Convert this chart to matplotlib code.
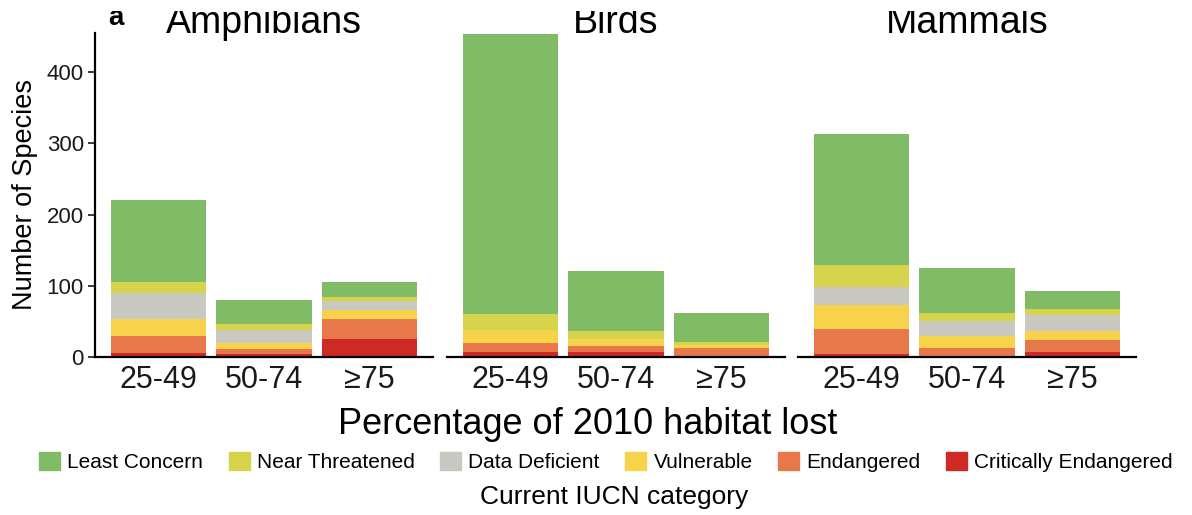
import matplotlib
matplotlib.use("Agg")
import matplotlib.pyplot as plt
import numpy as np
from matplotlib.transforms import Bbox, TransformedBbox

plt.rcParams["font.family"] = ["Liberation Sans", "DejaVu Sans"]

# 数据：每个类群，每个栖息地损失区间，各IUCN类别的物种数
groups = ["Amphibians", "Birds", "Mammals"]
bins = ["25-49", "50-74", "≥75"]
categories = ["Least Concern", "Near Threatened", "Data Deficient",
              "Vulnerable", "Endangered", "Critically Endangered"]
colors = ["#82bb66", "#d5d44c", "#c9c8c1", "#f6d34b", "#e8774a", "#cd2a26"]

# 顺序与 categories 相同
amphibians = {
    "25-49": [115, 15, 37, 24, 23, 6],
    "50-74": [34, 8, 18, 9, 7, 4],
    "≥75": [21, 5, 13, 12, 29, 25],
}
birds = {
    "25-49": [393, 23, 0, 19, 12, 7],
    "50-74": [85, 11, 0, 9, 9, 7],
    "≥75": [41, 4, 0, 4, 11, 2],
}
mammals = {
    "25-49": [184, 31, 25, 34, 35, 4],
    "50-74": [63, 12, 21, 16, 11, 2],
    "≥75": [26, 8, 22, 13, 17, 7],
}
all_data = [amphibians, birds, mammals]

W, H = 1192, 515
fig = plt.figure(figsize=(W / 100, H / 100), dpi=100)

# 原图顶部被裁掉，标题只露出下半部分
top_clip = TransformedBbox(Bbox([[0, 0], [1, 1 - 11 / H]]), fig.transFigure)

panel_left = [95, 447, 798]
panel_w = 338
bottom_px, top_px = 357, 33

axes = []
for i, (name, data) in enumerate(zip(groups, all_data)):
    ax = fig.add_axes([panel_left[i] / W, 1 - bottom_px / H,
                       panel_w / W, (bottom_px - top_px) / H])
    x = np.arange(1, len(bins) + 1)
    # 从下往上堆叠：CR, EN, VU, DD, NT, LC
    bottom = np.zeros(len(bins))
    for k in range(len(categories) - 1, -1, -1):
        vals = np.array([data[b][k] for b in bins])
        ax.bar(x, vals, width=0.9, bottom=bottom, color=colors[k],
               linewidth=0, label=categories[k])
        bottom += vals
    ax.set_xlim(0.4, 3.6)
    ax.set_ylim(0, 455)
    ax.set_xticks(x)
    ax.set_xticklabels(bins, fontsize=22)
    ax.tick_params(axis="x", length=0, pad=6, colors="#1a1a1a")
    for s in ["top", "right"]:
        ax.spines[s].set_visible(False)
    ax.spines["bottom"].set_linewidth(1.6)
    if i == 0:
        ax.set_yticks([0, 100, 200, 300, 400])
        ax.tick_params(axis="y", labelsize=16, length=5, width=1.2, pad=3,
                       colors="#1a1a1a")
        ax.spines["left"].set_linewidth(1.6)
        ax.set_ylabel("Number of Species", fontsize=19.5, labelpad=6)
    else:
        ax.spines["left"].set_visible(False)
        ax.set_yticks([])
    t = ax.text(0.5, 1.0, name, transform=ax.transAxes, ha="center",
                va="baseline", fontsize=27)
    t.set_clip_box(top_clip)
    t.set_clip_on(True)
    axes.append(ax)

# 面板标记
t = fig.text(108 / W, 1 - 25 / H, "a", fontsize=20, fontweight="bold",
             va="baseline")
t.set_clip_box(top_clip)
t.set_clip_on(True)

fig.text(0.493, 1 - 434 / H, "Percentage of 2010 habitat lost", ha="center",
         va="baseline", fontsize=26)

# 图例
handles = [plt.Rectangle((0, 0), 1, 1, color=c) for c in colors]
fig.legend(handles, categories, loc="center", ncol=6,
           bbox_to_anchor=(606 / W, 1 - 462 / H), frameon=False, fontsize=15,
           handlelength=1.0, handleheight=1.0, handletextpad=0.35,
           columnspacing=1.23)
fig.text(614 / W, 1 - 497 / H, "Current IUCN category", ha="center",
         va="center", fontsize=19)

fig.savefig("out.png", dpi=100)
